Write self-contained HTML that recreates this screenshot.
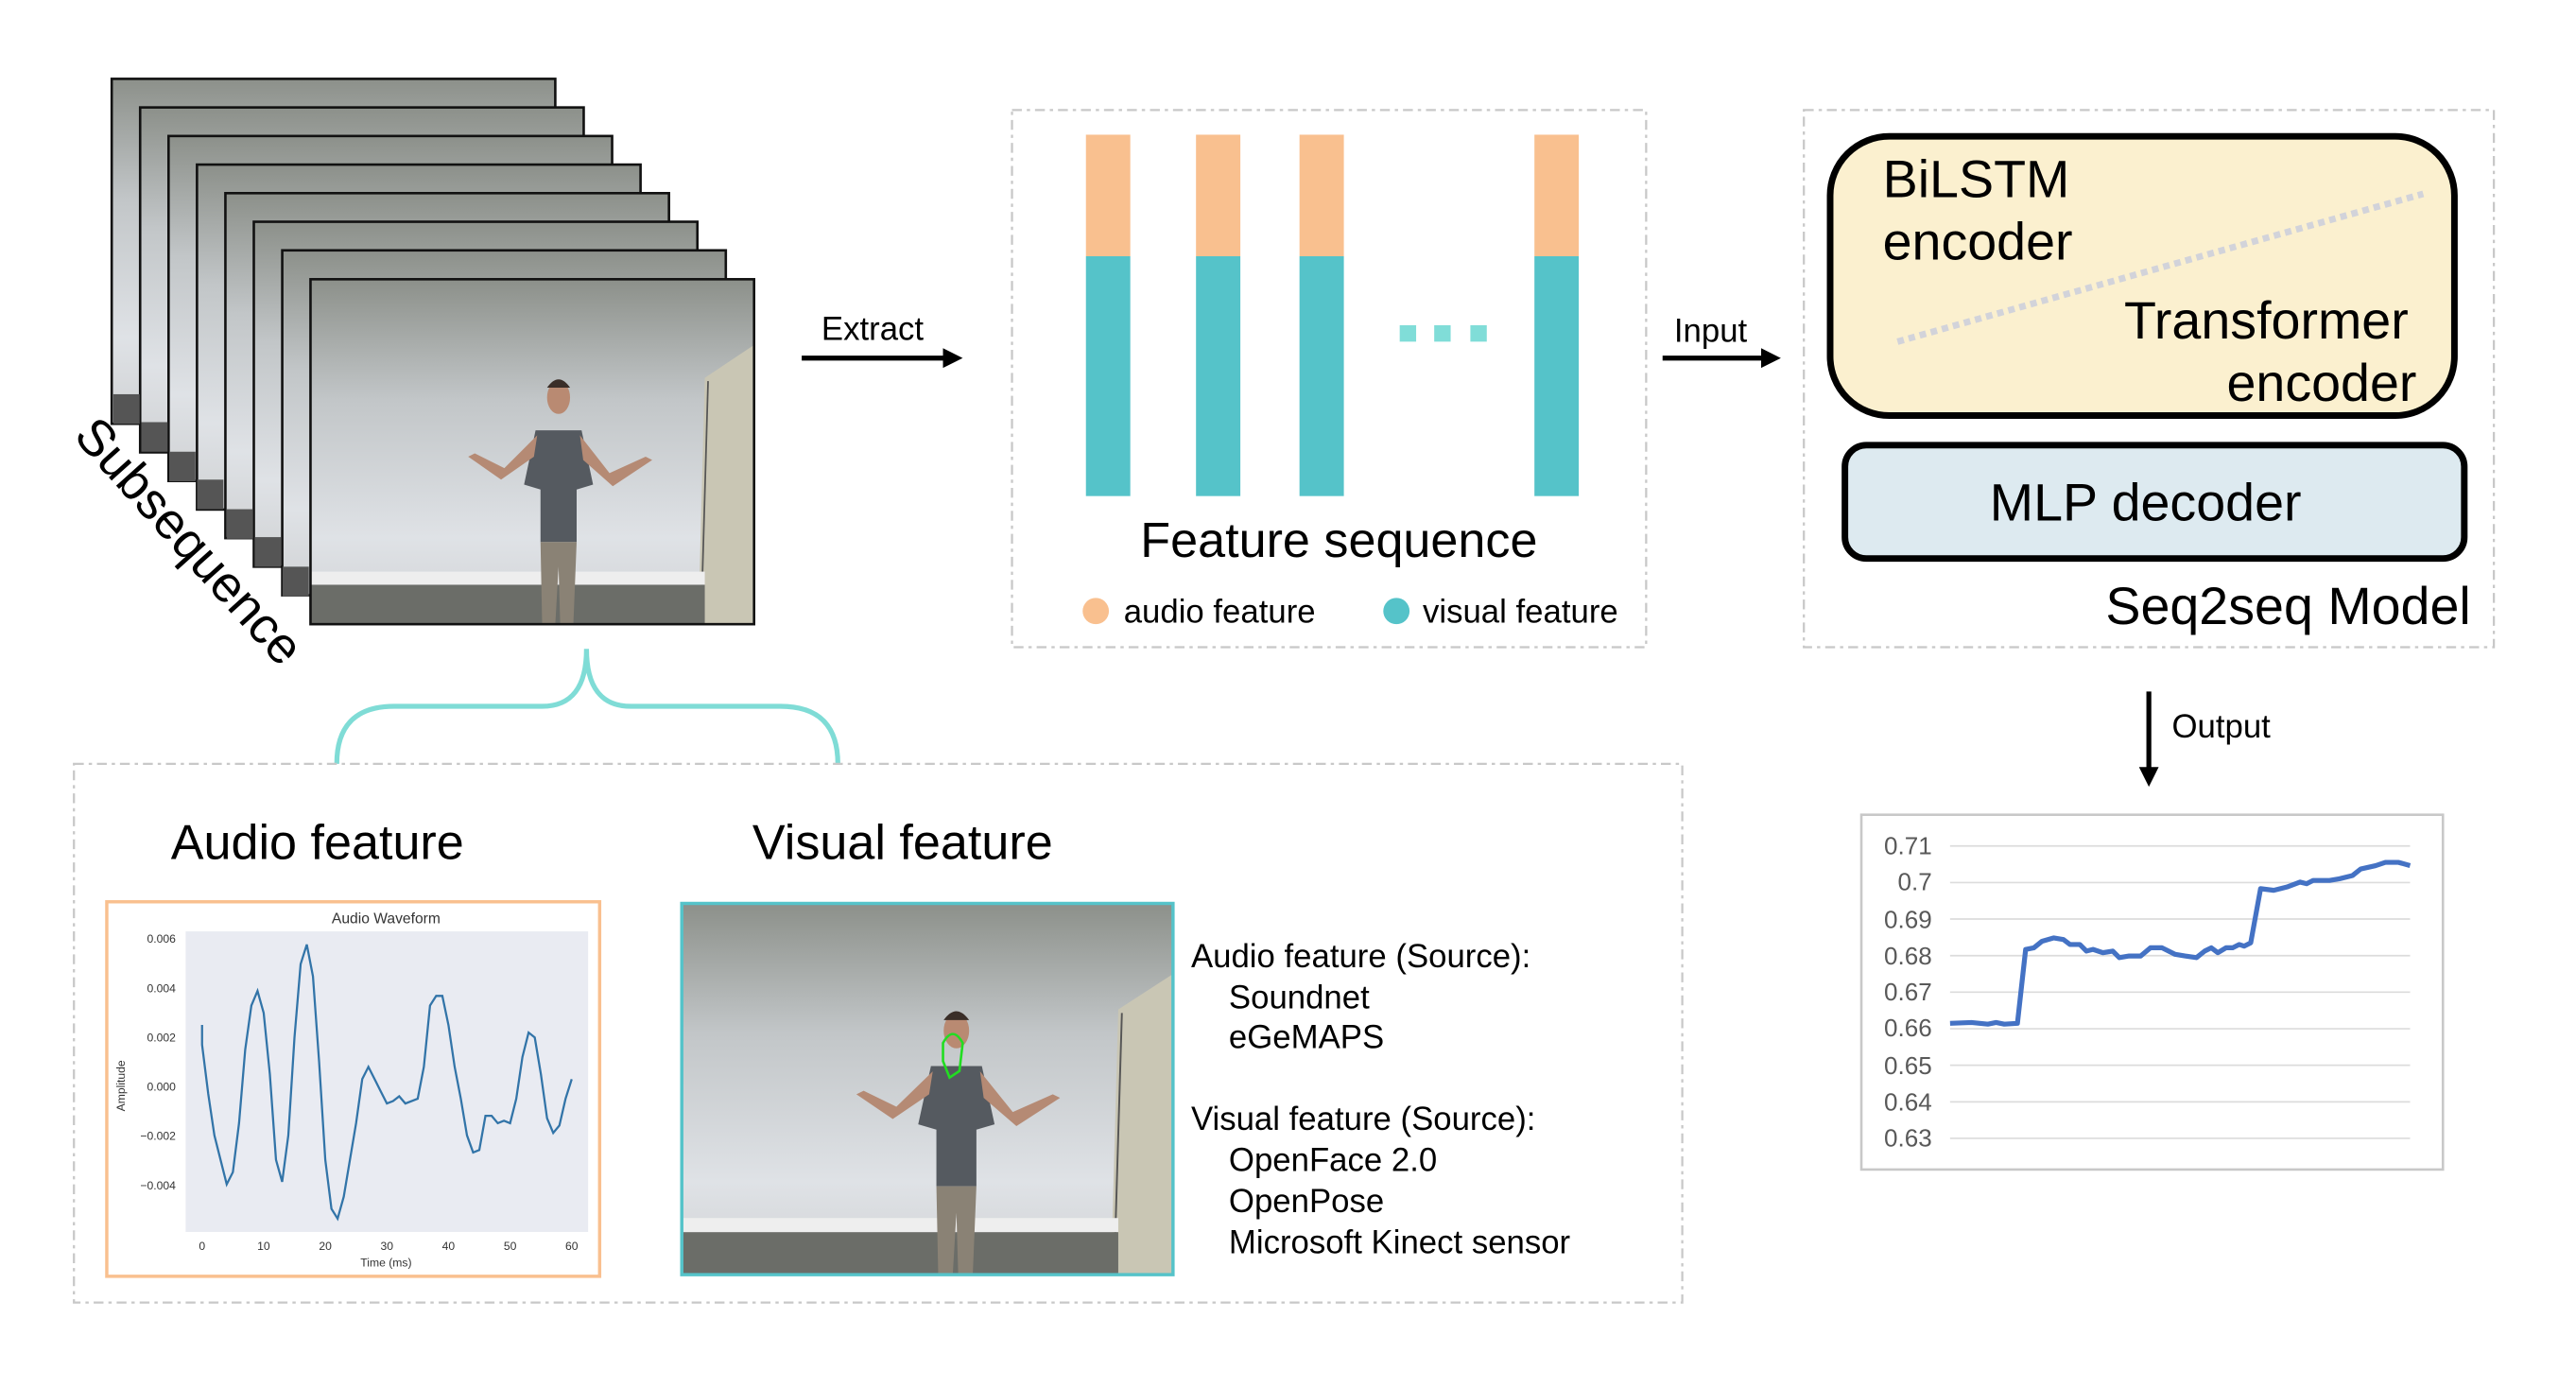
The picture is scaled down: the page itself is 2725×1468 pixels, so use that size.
<!DOCTYPE html>
<html><head><meta charset="utf-8"><style>
html,body{margin:0;padding:0;background:#fff;}
svg{display:block;}
text{font-family:"Liberation Sans","DejaVu Sans",sans-serif;}
</style></head><body>
<svg width="2725" height="1468" viewBox="0 0 1568 845" preserveAspectRatio="none" xmlns="http://www.w3.org/2000/svg">
<defs>
<linearGradient id="wall" x1="0" y1="0" x2="0" y2="1">
<stop offset="0" stop-color="#8c908a"/><stop offset="0.35" stop-color="#c2c6c8"/><stop offset="0.75" stop-color="#dfe2e6"/><stop offset="1" stop-color="#d0d2d4"/>
</linearGradient>
<g id="photo">
<rect x="0" y="0" width="270" height="210" fill="url(#wall)"/>
<polygon points="240,60 270,40 270,210 236,210" fill="#c9c6b4"/>
<line x1="242" y1="62" x2="238" y2="200" stroke="#555" stroke-width="1"/>
<rect x="0" y="178" width="240" height="8" fill="#eeeeee"/>
<rect x="0" y="186" width="240" height="24" fill="#6b6d68"/>
<ellipse cx="151" cy="72" rx="7" ry="10" fill="#b98a72"/>
<path d="M144 66 Q151 56 158 66 Z" fill="#3a2e28"/>
<path d="M137 92 L165 92 L172 125 L162 128 L162 160 L140 160 L140 128 L130 125 Z" fill="#555a60"/>
<path d="M138 95 L118 115 L100 106 L96 108 L116 122 L136 108 Z" fill="#b58a74"/>
<path d="M164 95 L182 118 L204 108 L208 110 L184 126 L166 110 Z" fill="#b58a74"/>
<path d="M140 160 L162 160 L160 210 L152 210 L151 175 L149 210 L141 210 Z" fill="#8a8275"/>
</g>
</defs>

<g stroke="#111" stroke-width="1.5">
<rect x="68" y="48" width="270" height="210" fill="url(#wall)"/>
<rect x="85.3" y="65.4" width="270" height="210" fill="url(#wall)"/>
<rect x="102.6" y="82.8" width="270" height="210" fill="url(#wall)"/>
<rect x="119.9" y="100.2" width="270" height="210" fill="url(#wall)"/>
<rect x="137.2" y="117.6" width="270" height="210" fill="url(#wall)"/>
<rect x="154.5" y="135" width="270" height="210" fill="url(#wall)"/>
<rect x="171.8" y="152.4" width="270" height="210" fill="url(#wall)"/>
</g>
<g fill="#555">
<rect x="69" y="240" width="16" height="18"/><rect x="86" y="257" width="16" height="18"/><rect x="103" y="275" width="16" height="18"/><rect x="120" y="292" width="16" height="18"/><rect x="138" y="310" width="16" height="18"/><rect x="155" y="327" width="16" height="18"/><rect x="172" y="345" width="16" height="18"/>
</g>
<g transform="translate(189,170)"><use href="#photo"/></g>
<rect x="189" y="170" width="270" height="210" fill="none" stroke="#111" stroke-width="1.5"/>
<text x="44" y="266" font-size="31" transform="rotate(48 44 266)">Subsequence</text>

<text x="500" y="207" font-size="20">Extract</text>
<line x1="488" y1="218" x2="578" y2="218" stroke="#000" stroke-width="3"/>
<polygon points="586,218 574,212 574,224" fill="#000"/>

<rect x="616" y="67" width="386" height="327" fill="none" stroke="#c8c8c8" stroke-width="1.3" stroke-dasharray="6,3,2,3"/>
<g fill="#f9c08f"><rect x="661" y="82" width="27" height="74"/><rect x="728" y="82" width="27" height="74"/><rect x="791" y="82" width="27" height="74"/><rect x="934" y="82" width="27" height="74"/></g>
<g fill="#55c3c9"><rect x="661" y="156" width="27" height="146"/><rect x="728" y="156" width="27" height="146"/><rect x="791" y="156" width="27" height="146"/><rect x="934" y="156" width="27" height="146"/></g>
<g fill="#80ddd8"><rect x="852" y="198" width="10" height="10"/><rect x="873" y="198" width="10" height="10"/><rect x="895" y="198" width="10" height="10"/></g>
<text x="815" y="339" font-size="30" text-anchor="middle">Feature sequence</text>
<circle cx="667" cy="372" r="8" fill="#f9c08f"/>
<text x="684" y="379" font-size="20">audio feature</text>
<circle cx="850" cy="372" r="8" fill="#55c3c9"/>
<text x="866" y="379" font-size="20">visual feature</text>

<text x="1019" y="208" font-size="20">Input</text>
<line x1="1012" y1="218" x2="1076" y2="218" stroke="#000" stroke-width="3"/>
<polygon points="1084,218 1072,212 1072,224" fill="#000"/>

<rect x="1098" y="67" width="420" height="327" fill="none" stroke="#c8c8c8" stroke-width="1.3" stroke-dasharray="6,3,2,3"/>
<rect x="1114" y="83" width="380" height="170" rx="36" fill="#fbf0cf" stroke="#000" stroke-width="4"/>
<line x1="1155" y1="208" x2="1475" y2="118" stroke="#d2d3da" stroke-width="4" stroke-dasharray="4,3"/>
<text x="1146" y="120" font-size="32">BiLSTM</text>
<text x="1146" y="158" font-size="32">encoder</text>
<text x="1466" y="206" font-size="32" text-anchor="end">Transformer</text>
<text x="1471" y="244" font-size="32" text-anchor="end">encoder</text>
<rect x="1123" y="271" width="377" height="69" rx="13" fill="#ddeaf0" stroke="#000" stroke-width="4"/>
<text x="1306" y="317" font-size="32" text-anchor="middle">MLP decoder</text>
<text x="1504" y="380" font-size="32" text-anchor="end">Seq2seq Model</text>

<line x1="1308" y1="421" x2="1308" y2="468" stroke="#000" stroke-width="3"/>
<polygon points="1308,479 1302,467 1314,467" fill="#000"/>
<text x="1322" y="449" font-size="20">Output</text>

<rect x="1133" y="496" width="354" height="216" fill="#fff" stroke="#c8c8c8" stroke-width="1.5"/>
<g stroke="#dcdcdc" stroke-width="1">
<line x1="1187" y1="515" x2="1467" y2="515"/><line x1="1187" y1="537.3" x2="1467" y2="537.3"/><line x1="1187" y1="559.5" x2="1467" y2="559.5"/><line x1="1187" y1="581.8" x2="1467" y2="581.8"/><line x1="1187" y1="604" x2="1467" y2="604"/><line x1="1187" y1="626.3" x2="1467" y2="626.3"/><line x1="1187" y1="648.5" x2="1467" y2="648.5"/><line x1="1187" y1="670.8" x2="1467" y2="670.8"/><line x1="1187" y1="693" x2="1467" y2="693"/>
</g>
<g font-size="15" fill="#595959" text-anchor="end">
<text x="1176" y="520">0.71</text><text x="1176" y="542">0.7</text><text x="1176" y="565">0.69</text><text x="1176" y="587">0.68</text><text x="1176" y="609">0.67</text><text x="1176" y="631">0.66</text><text x="1176" y="654">0.65</text><text x="1176" y="676">0.64</text><text x="1176" y="698">0.63</text>
</g>
<polyline fill="none" stroke="#4472c4" stroke-width="3" stroke-linejoin="round" points="1187,623 1200,622.5 1210,623.5 1215,622.5 1220,623.5 1228,623 1233,578 1238,577 1243,573 1250,571 1256,572 1260,575 1266,575 1270,579 1274,578 1280,580 1286,579 1290,583 1296,582 1303,582 1309,577 1316,577 1324,581 1330,582 1337,583 1342,579 1346,577 1350,580 1355,577 1359,577 1363,575 1366,576 1370,574 1376,541 1384,542 1392,540 1400,537 1404,538 1408,536 1418,536 1424,535 1432,533 1437,529 1446,527 1452,525 1460,525 1467,527"/>

<path d="M205,465 Q205,430 240,430 L330,430 Q357,430 357,395 Q357,430 384,430 L475,430 Q510,430 510,465" fill="none" stroke="#7fdcd6" stroke-width="3"/>

<rect x="45" y="465" width="979" height="328" fill="none" stroke="#c8c8c8" stroke-width="1.3" stroke-dasharray="6,3,2,3"/>
<text x="104" y="523" font-size="30">Audio feature</text>
<text x="458" y="523" font-size="30">Visual feature</text>

<rect x="65" y="549" width="300" height="228" fill="#fff" stroke="#f9c08f" stroke-width="2"/>
<rect x="113" y="567" width="245" height="183" fill="#e9ebf2"/>
<text x="235" y="562" font-size="9" text-anchor="middle" fill="#333">Audio Waveform</text>
<g font-size="7" fill="#333" text-anchor="end">
<text x="107" y="574">0.006</text><text x="107" y="604">0.004</text><text x="107" y="634">0.002</text><text x="107" y="664">0.000</text><text x="107" y="694">−0.002</text><text x="107" y="724">−0.004</text>
</g>
<text x="76" y="661" font-size="7" fill="#333" text-anchor="middle" transform="rotate(-90 76 661)">Amplitude</text>
<g font-size="7" fill="#333" text-anchor="middle">
<text x="123" y="761">0</text><text x="160.5" y="761">10</text><text x="198" y="761">20</text><text x="235.5" y="761">30</text><text x="273" y="761">40</text><text x="310.5" y="761">50</text><text x="348" y="761">60</text>
</g>
<text x="235" y="771" font-size="7" fill="#333" text-anchor="middle">Time (ms)</text>
<polyline fill="none" stroke="#3274a8" stroke-width="1.3" points="123,624 123,636 126.75,665.9 130.5,691.2 134.25,706.1 138,721 141.75,713.6 145.5,683.8 149.25,639.1 153,612.2 156.75,603.3 160.5,616.7 164.25,653.9 168,706.1 171.75,719.5 175.5,691.2 179.25,631.6 183,586.9 186.75,575 190.5,594.4 194.25,646.5 198,706.1 201.75,735.9 205.5,741.9 209.25,728.5 213,706.1 216.75,683.8 220.5,656.9 224.25,649.5 228,656.9 231.75,664.4 235.5,671.8 239.25,670.3 243,667.4 246.75,671.8 254.25,668.9 258,649.5 261.75,612.2 265.5,606.3 269.25,606.3 273,624.2 276.75,649.5 280.5,668.9 284.25,691.2 288,701.6 291.75,700.1 295.5,679.3 299.25,679.3 303,683.8 306.75,682.3 310.5,683.8 314.25,668.9 318,643.5 321.75,628.6 325.5,631.6 329.25,654 333,680.8 336.75,689.7 340.5,685.2 344.25,668.9 348,657"/>

<g transform="translate(415,550) scale(1.107,1.076)"><use href="#photo"/></g>
<path d="M574,635 Q580,624 586,635 L584,652 L578,656 L574,646 Z" fill="none" stroke="#22dd22" stroke-width="1.5"/>
<rect x="415" y="550" width="299" height="226" fill="none" stroke="#55c3c9" stroke-width="2"/>

<g font-size="20">
<text x="725" y="589">Audio feature (Source):</text>
<text x="748" y="614">Soundnet</text>
<text x="748" y="638">eGeMAPS</text>
<text x="725" y="688">Visual feature (Source):</text>
<text x="748" y="713">OpenFace 2.0</text>
<text x="748" y="738">OpenPose</text>
<text x="748" y="763">Microsoft Kinect sensor</text>
</g>
</svg>
</body></html>
